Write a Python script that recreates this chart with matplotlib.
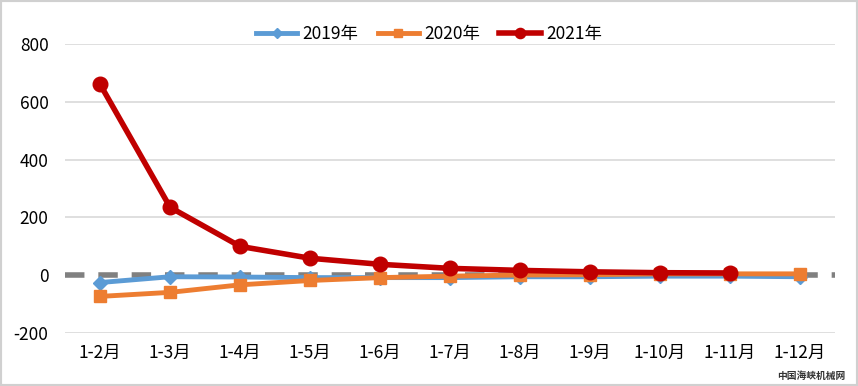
import matplotlib
matplotlib.use("Agg")
import matplotlib.pyplot as plt
from matplotlib.patches import Rectangle

plt.rcParams['font.family'] = ['Noto Sans CJK SC', 'DejaVu Sans']

categories = ["1-2月", "1-3月", "1-4月", "1-5月", "1-6月", "1-7月", "1-8月", "1-9月", "1-10月", "1-11月", "1-12月"]
s2019 = [-25, -5, -6, -8, -8, -8, -5, -5, -3, -3, -5]
s2020 = [-73, -59, -33, -18, -8, -3, 1, 2, 5, 5, 5]
s2021 = [660, 235, 100, 59, 38, 24, 17, 12, 9, 8]
yticks = [-200, 0, 200, 400, 600, 800]

fig = plt.figure(figsize=(8.58, 3.86), dpi=100)
ax = fig.add_axes([0.076, 0.137, 0.897, 0.749])

x = list(range(len(categories)))
for yv in yticks:
    if yv != 0:
        ax.axhline(yv, color='#d9d9d9', lw=1.2, zorder=0)
ax.axhline(0, color='#808080', lw=4, linestyle=(0, (3.5, 2.5)), zorder=1)

ax.plot(x, s2019, color='#5b9bd5', lw=3.5, marker='D', ms=7, label='2019年', zorder=3)
ax.plot(x, s2020, color='#ed7d31', lw=3.5, marker='s', ms=9, label='2020年', zorder=4)
ax.plot(x[:len(s2021)], s2021, color='#c00000', lw=4, marker='o', ms=10.5, label='2021年', zorder=5)

ax.set_xlim(-0.5, len(categories) - 0.5)
ax.set_ylim(-200, 800)
ax.set_yticks(yticks)
ax.set_yticklabels([str(v) for v in yticks], fontsize=12.5)
ax.set_xticks(x)
ax.set_xticklabels(categories, fontsize=12.5)
ax.tick_params(length=0, pad=8)
ax.tick_params(axis='y', pad=12)
for s in ax.spines.values():
    s.set_visible(False)

leg = fig.legend(loc='upper center', bbox_to_anchor=(0.5, 0.975), ncol=3, frameon=False,
                 fontsize=12.5, handlelength=2.4, columnspacing=1.1, handletextpad=0.3,
                 markerscale=0.7)

fig.text(0.985, 0.012, "中国海峡机械网", fontsize=7, ha='right', va='bottom', color='#333333',
         fontweight='bold')
fig.patches.append(Rectangle((0, 0), 1, 1, transform=fig.transFigure, fill=False,
                             edgecolor='#d0d0d0', lw=3))

fig.savefig("out.png", dpi=100)
